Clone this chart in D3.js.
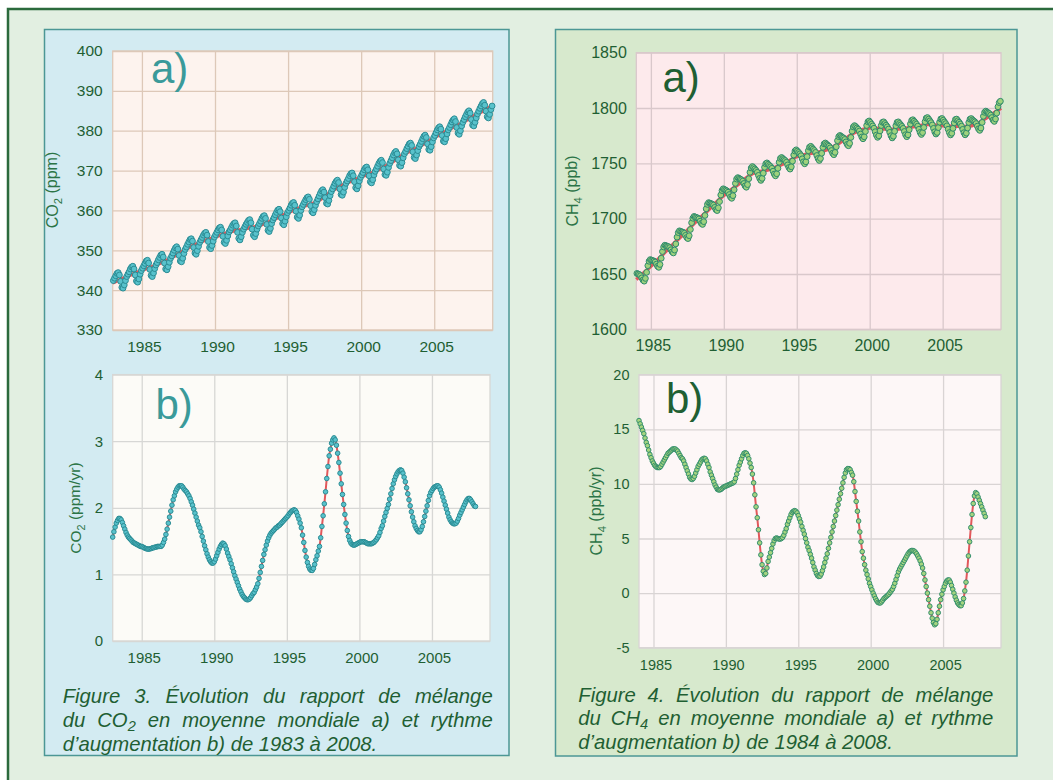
<!DOCTYPE html>
<html>
<head>
<meta charset="utf-8">
<script src="https://cdn.jsdelivr.net/npm/d3@7"></script>
<style>
  body { margin: 0; background: #fff; }
  svg { display: block; font-family: "Liberation Sans", Arial, sans-serif; }
</style>
</head>
<body>
<svg id="chart" width="1053" height="780"></svg>
<script>
// ---- data ----
const xTickYears = [1985, 1990, 1995, 2000, 2005];
const co2Ticks = [330, 340, 350, 360, 370, 380, 390, 400];
const co2RateTicks = [0, 1, 2, 3, 4];
const ch4Ticks = [1600, 1650, 1700, 1750, 1800, 1850];
const ch4RateTicks = [-5, 0, 5, 10, 15, 20];

// CO2 monthly global mean (ppm), Jan 1983 .. Dec 2008
const co2Start = 1983;
const co2Monthly = [
  342.4, 343.0, 343.6, 344.2, 344.4, 343.8, 342.2, 340.7, 340.5, 341.3, 342.4, 343.4,
  344.0, 344.6, 345.3, 345.8, 346.0, 345.3, 343.8, 342.3, 342.0, 342.8, 344.0, 344.9,
  345.5, 346.1, 346.7, 347.3, 347.5, 346.8, 345.2, 343.7, 343.4, 344.3, 345.4, 346.3,
  346.9, 347.6, 348.2, 348.8, 349.0, 348.3, 346.8, 345.3, 345.1, 345.9, 347.0, 348.0,
  348.6, 349.3, 350.0, 350.6, 350.9, 350.3, 348.7, 347.3, 347.1, 348.0, 349.2, 350.2,
  350.8, 351.5, 352.1, 352.7, 352.9, 352.3, 350.7, 349.3, 349.0, 349.9, 351.0, 352.0,
  352.6, 353.2, 353.8, 354.3, 354.5, 353.8, 352.2, 350.7, 350.4, 351.2, 352.3, 353.3,
  353.9, 354.5, 355.1, 355.6, 355.8, 355.1, 353.5, 352.0, 351.7, 352.5, 353.6, 354.6,
  355.1, 355.7, 356.3, 356.7, 356.9, 356.1, 354.5, 353.0, 352.6, 353.4, 354.5, 355.3,
  355.9, 356.5, 357.0, 357.5, 357.7, 356.9, 355.3, 353.8, 353.4, 354.2, 355.3, 356.1,
  356.7, 357.3, 358.0, 358.5, 358.7, 358.0, 356.5, 355.0, 354.7, 355.5, 356.7, 357.6,
  358.2, 358.9, 359.5, 360.1, 360.3, 359.7, 358.1, 356.7, 356.4, 357.3, 358.4, 359.4,
  360.0, 360.6, 361.3, 361.8, 362.0, 361.3, 359.8, 358.3, 358.0, 358.8, 360.0, 360.9,
  361.5, 362.1, 362.7, 363.2, 363.4, 362.8, 361.2, 359.7, 359.4, 360.2, 361.3, 362.2,
  362.9, 363.6, 364.3, 364.9, 365.2, 364.6, 363.2, 361.8, 361.6, 362.5, 363.7, 364.7,
  365.4, 366.1, 366.8, 367.3, 367.6, 367.0, 365.4, 364.0, 363.8, 364.6, 365.8, 366.8,
  367.4, 368.0, 368.7, 369.2, 369.4, 368.7, 367.2, 365.7, 365.4, 366.2, 367.4, 368.3,
  368.9, 369.5, 370.2, 370.7, 370.9, 370.2, 368.7, 367.2, 366.9, 367.7, 368.9, 369.8,
  370.4, 371.1, 371.8, 372.3, 372.6, 372.0, 370.4, 369.0, 368.8, 369.6, 370.8, 371.8,
  372.5, 373.2, 373.9, 374.5, 374.8, 374.2, 372.7, 371.3, 371.1, 372.0, 373.2, 374.2,
  374.8, 375.5, 376.1, 376.7, 376.9, 376.3, 374.7, 373.3, 373.0, 373.9, 375.0, 376.0,
  376.6, 377.3, 378.0, 378.6, 378.9, 378.3, 376.7, 375.3, 375.1, 376.0, 377.2, 378.2,
  378.8, 379.5, 380.2, 380.7, 381.0, 380.4, 378.8, 377.4, 377.2, 378.0, 379.2, 380.2,
  380.8, 381.5, 382.2, 382.7, 383.0, 382.3, 380.8, 379.4, 379.1, 380.0, 381.2, 382.1,
  382.8, 383.5, 384.1, 384.7, 385.0, 384.4, 382.8, 381.4, 381.2, 382.1, 383.2, 384.2,
  384.9, 385.6, 386.2, 386.8, 387.1, 386.4, 384.9, 383.5, 383.2, 384.1, 385.3, 386.2
];
// deseasonalised CO2 trend at 1 January, 1983 .. 2009
const co2Trend = [341.8, 343.45, 344.95, 346.35, 348.05, 350.25, 352.05, 353.3, 354.6,
  355.35, 356.15, 357.65, 359.45, 360.95, 362.25, 364.85, 366.85, 368.35, 369.85,
  371.85, 374.25, 376.05, 378.25, 380.25, 382.2, 384.3, 386.3];
// CO2 growth rate (ppm/yr), monthly from Jan 1983 to Jan 2008
const co2Rate = [
  1.56, 1.64, 1.71, 1.77, 1.81, 1.84, 1.84, 1.82, 1.78, 1.73, 1.68, 1.63,
  1.59, 1.56, 1.54, 1.52, 1.50, 1.48, 1.47, 1.46, 1.45, 1.44, 1.43, 1.42,
  1.42, 1.41, 1.40, 1.39, 1.385, 1.38, 1.38, 1.385, 1.39, 1.40, 1.40, 1.41,
  1.41, 1.42, 1.42, 1.42, 1.42, 1.44, 1.48, 1.53, 1.60, 1.68, 1.77, 1.86,
  1.95, 2.04, 2.12, 2.18, 2.24, 2.28, 2.31, 2.33, 2.33, 2.33, 2.31, 2.28,
  2.26, 2.24, 2.21, 2.18, 2.14, 2.09, 2.04, 1.98, 1.92, 1.86, 1.80, 1.74,
  1.70, 1.64, 1.57, 1.50, 1.43, 1.37, 1.31, 1.26, 1.22, 1.19, 1.17, 1.17,
  1.19, 1.23, 1.28, 1.33, 1.38, 1.42, 1.45, 1.47, 1.46, 1.43, 1.38, 1.32,
  1.27, 1.22, 1.16, 1.10, 1.04, 0.98, 0.93, 0.88, 0.83, 0.78, 0.74, 0.70,
  0.67, 0.65, 0.63, 0.62, 0.62, 0.63, 0.65, 0.68, 0.71, 0.73, 0.77, 0.81,
  0.86, 0.94, 1.03, 1.12, 1.21, 1.30, 1.37, 1.44, 1.50, 1.55, 1.59, 1.62,
  1.64, 1.66, 1.68, 1.70, 1.71, 1.73, 1.74, 1.76, 1.78, 1.80, 1.82, 1.84,
  1.86, 1.88, 1.91, 1.93, 1.95, 1.96, 1.97, 1.96, 1.93, 1.88, 1.83, 1.77,
  1.70, 1.59, 1.48, 1.36, 1.26, 1.18, 1.12, 1.08, 1.06, 1.06, 1.09, 1.15,
  1.22, 1.28, 1.35, 1.42, 1.55, 1.72, 1.88, 2.06, 2.24, 2.44, 2.62, 2.78,
  2.88, 2.97, 3.02, 3.05, 3.02, 2.94, 2.82, 2.68, 2.52, 2.36, 2.20, 2.05,
  1.90, 1.77, 1.66, 1.57, 1.51, 1.47, 1.45, 1.44, 1.44, 1.45, 1.46, 1.47,
  1.48, 1.49, 1.49, 1.49, 1.49, 1.48, 1.47, 1.46, 1.46, 1.46, 1.46, 1.47,
  1.48, 1.50, 1.52, 1.55, 1.58, 1.63, 1.69, 1.73, 1.80, 1.87, 1.93, 1.99,
  2.05, 2.13, 2.21, 2.29, 2.36, 2.42, 2.47, 2.51, 2.54, 2.56, 2.57, 2.56,
  2.52, 2.46, 2.39, 2.30, 2.21, 2.12, 2.03, 1.94, 1.86, 1.79, 1.73, 1.69,
  1.66, 1.64, 1.64, 1.67, 1.72, 1.79, 1.87, 1.95, 2.03, 2.11, 2.18, 2.23,
  2.26, 2.29, 2.31, 2.32, 2.33, 2.33, 2.31, 2.27, 2.22, 2.16, 2.10, 2.04,
  1.98, 1.92, 1.86, 1.82, 1.79, 1.77, 1.76, 1.76, 1.77, 1.80, 1.84, 1.89,
  1.93, 1.97, 2.01, 2.05, 2.09, 2.12, 2.14, 2.14, 2.12, 2.09, 2.06, 2.03,
  2.02
];

// CH4 monthly global mean (ppb), Jan 1984 .. Dec 2008
const ch4Start = 1984;
const ch4Monthly = [
  1650.5, 1650.0, 1649.5, 1648.5, 1646.5, 1644.5, 1643.5, 1646.0, 1651.5, 1657.5, 1661.5, 1663.0,
  1662.5, 1662.1, 1661.7, 1660.8, 1658.9, 1657.0, 1656.0, 1658.6, 1664.2, 1670.3, 1674.4, 1676.0,
  1675.5, 1675.1, 1674.7, 1673.8, 1671.9, 1670.0, 1669.0, 1671.6, 1677.2, 1683.3, 1687.4, 1689.0,
  1688.5, 1688.1, 1687.7, 1686.8, 1684.9, 1683.0, 1682.0, 1684.6, 1690.2, 1696.3, 1700.4, 1702.0,
  1701.5, 1701.1, 1700.6, 1699.7, 1697.7, 1695.7, 1694.8, 1697.3, 1702.9, 1708.9, 1712.9, 1714.5,
  1714.0, 1713.6, 1713.1, 1712.2, 1710.2, 1708.2, 1707.3, 1709.8, 1715.4, 1721.4, 1725.4, 1727.0,
  1726.4, 1725.8, 1725.1, 1723.9, 1721.8, 1719.6, 1718.4, 1720.8, 1726.1, 1731.9, 1735.8, 1737.1,
  1736.4, 1735.8, 1735.1, 1733.9, 1731.8, 1729.6, 1728.4, 1730.8, 1736.1, 1741.9, 1745.8, 1747.1,
  1746.1, 1744.9, 1743.6, 1741.9, 1739.1, 1736.4, 1734.6, 1736.4, 1741.1, 1746.4, 1749.6, 1750.4,
  1749.2, 1748.1, 1747.0, 1745.5, 1742.9, 1740.3, 1738.7, 1740.6, 1745.5, 1751.0, 1754.4, 1755.3,
  1754.3, 1753.4, 1752.5, 1751.0, 1748.6, 1746.2, 1744.8, 1746.9, 1752.0, 1757.5, 1761.1, 1762.2,
  1761.1, 1759.9, 1758.6, 1756.9, 1754.1, 1751.4, 1749.6, 1751.4, 1756.1, 1761.4, 1764.6, 1765.4,
  1764.1, 1762.9, 1761.6, 1759.9, 1757.1, 1754.4, 1752.6, 1754.4, 1759.1, 1764.4, 1767.6, 1768.4,
  1767.3, 1766.4, 1765.5, 1764.0, 1761.6, 1759.2, 1757.8, 1759.9, 1765.0, 1770.5, 1774.1, 1775.2,
  1774.4, 1773.6, 1772.9, 1771.6, 1769.4, 1767.1, 1765.9, 1768.1, 1773.4, 1779.1, 1782.9, 1784.1,
  1783.2, 1782.0, 1780.8, 1779.2, 1776.5, 1773.8, 1772.2, 1774.0, 1778.8, 1784.2, 1787.5, 1788.3,
  1787.0, 1785.4, 1783.8, 1781.7, 1778.6, 1775.5, 1773.5, 1774.9, 1779.3, 1784.2, 1787.1, 1787.5,
  1786.0, 1784.5, 1783.0, 1781.0, 1778.0, 1775.0, 1773.0, 1774.5, 1779.0, 1784.0, 1787.0, 1787.5,
  1786.1, 1784.8, 1783.4, 1781.6, 1778.8, 1775.9, 1774.1, 1775.8, 1780.4, 1785.6, 1788.8, 1789.4,
  1788.1, 1786.8, 1785.4, 1783.6, 1780.8, 1777.9, 1776.1, 1777.8, 1782.4, 1787.6, 1790.8, 1791.4,
  1790.0, 1788.4, 1786.8, 1784.7, 1781.6, 1778.5, 1776.5, 1777.9, 1782.3, 1787.2, 1790.1, 1790.5,
  1789.0, 1787.4, 1785.9, 1783.9, 1780.8, 1777.8, 1775.7, 1777.2, 1781.6, 1786.6, 1789.6, 1790.0,
  1788.5, 1787.1, 1785.6, 1783.6, 1780.7, 1777.7, 1775.8, 1777.3, 1781.9, 1786.9, 1789.9, 1790.5,
  1789.3, 1788.4, 1787.5, 1786.0, 1783.6, 1781.2, 1779.8, 1781.9, 1787.0, 1792.5, 1796.1, 1797.2,
  1796.4, 1795.6, 1794.9, 1793.6, 1791.4, 1789.1, 1787.9, 1790.1, 1795.4, 1801.1, 1804.9, 1806.1
];
// deseasonalised CH4 trend at 1 January, 1984 .. 2009
const ch4Trend = [1645, 1657, 1670, 1683, 1696, 1708.5, 1721, 1731, 1741, 1744, 1749,
  1756, 1759, 1762, 1769, 1778, 1782, 1781, 1781, 1783, 1785, 1784, 1783.5, 1784, 1791, 1800];
// CH4 growth rate (ppb/yr), monthly from Jan 1984 to Dec 2007
const ch4Rate = [
  15.8, 15.5, 15.2, 14.9, 14.6, 14.2, 13.8, 13.5, 13.1, 12.7, 12.4, 12.1,
  11.9, 11.7, 11.6, 11.5, 11.5, 11.5, 11.6, 11.8, 12.0, 12.2, 12.4, 12.6,
  12.8, 12.9, 13.0, 13.1, 13.2, 13.2, 13.2, 13.1, 13.0, 12.8, 12.6, 12.4,
  12.3, 12.1, 11.8, 11.5, 11.2, 10.9, 10.6, 10.45, 10.4, 10.5, 10.7, 11.0,
  11.3, 11.6, 11.8, 12.0, 12.2, 12.3, 12.35, 12.3, 12.1, 11.8, 11.5, 11.1,
  10.8, 10.5, 10.2, 9.9, 9.7, 9.5, 9.45, 9.45, 9.5, 9.6, 9.7, 9.75,
  9.8, 9.85, 9.9, 9.95, 10.0, 10.05, 10.1, 10.2, 10.5, 10.9, 11.3, 11.7,
  12.0, 12.3, 12.6, 12.8, 12.85, 12.8, 12.6, 12.3, 11.9, 11.5, 10.9, 10.1,
  9.0, 7.9, 6.9, 5.8, 4.6, 3.5, 2.6, 2.0, 1.7, 1.8, 2.3, 2.9,
  3.3, 3.7, 4.1, 4.5, 4.8, 5.0, 5.05, 5.0, 4.95, 4.95, 5.0, 5.1,
  5.3, 5.6, 5.9, 6.3, 6.6, 6.9, 7.2, 7.4, 7.5, 7.55, 7.5, 7.35,
  7.1, 6.8, 6.5, 6.1, 5.75, 5.4, 5.0, 4.6, 4.2, 3.9, 3.55, 3.2,
  2.8, 2.4, 2.1, 1.8, 1.6, 1.52, 1.55, 1.75, 2.05, 2.4, 2.8, 3.2,
  3.6, 4.1, 4.6, 5.1, 5.6, 6.1, 6.6, 7.1, 7.6, 8.1, 8.6, 9.1,
  9.6, 10.1, 10.6, 11.0, 11.3, 11.4, 11.4, 11.3, 11.05, 10.8, 10.2, 9.3,
  8.4, 7.5, 6.6, 5.6, 4.7, 3.8, 3.2, 2.6, 2.1, 1.7, 1.3, 0.9,
  0.6, 0.3, 0.0, -0.25, -0.5, -0.7, -0.85, -0.9, -0.9, -0.8, -0.65, -0.5,
  -0.4, -0.3, -0.2, -0.1, 0.05, 0.2, 0.35, 0.6, 0.9, 1.25, 1.6, 1.95,
  2.2, 2.4, 2.6, 2.8, 3.0, 3.2, 3.4, 3.6, 3.75, 3.85, 3.9, 3.9,
  3.85, 3.75, 3.6, 3.4, 3.2, 2.95, 2.65, 2.3, 1.8, 1.2, 0.6, 0.0,
  -0.6, -1.2, -1.8, -2.3, -2.7, -2.9, -2.8, -2.4, -1.8, -1.2, -0.6, -0.1,
  0.3, 0.6, 0.9, 1.1, 1.2, 1.2, 1.0, 0.7, 0.35, 0.0, -0.35, -0.65,
  -0.9, -1.05, -1.15, -1.15, -0.9, -0.5, 0.2, 1.0, 2.1, 3.4, 4.7, 6.0,
  7.2, 8.2, 8.9, 9.2, 9.1, 8.8, 8.5, 8.2, 7.9, 7.6, 7.3, 7.0
];

// caption lines, a word is a string or a list of [text, isSubscript]
const captionCO2 = [
  ['Figure', '3.', 'Évolution', 'du', 'rapport', 'de', 'mélange'],
  ['du', [['CO', false], ['2', true]], 'en', 'moyenne', 'mondiale', 'a)', 'et', 'rythme'],
  ['d’augmentation', 'b)', 'de', '1983', 'à', '2008.']
];
const captionCH4 = [
  ['Figure', '4.', 'Évolution', 'du', 'rapport', 'de', 'mélange'],
  ['du', [['CH', false], ['4', true]], 'en', 'moyenne', 'mondiale', 'a)', 'et', 'rythme'],
  ['d’augmentation', 'b)', 'de', '1984', 'à', '2008.']
];

// ---- drawing ----
const svg = d3.select('#chart');
const darkGreen = '#1f5f33';
const red = '#e2585b';

svg.append('rect').attr('x', 8).attr('y', 9).attr('width', 1060).attr('height', 790)
  .attr('fill', '#e2efe1').attr('stroke', '#2b6a3c').attr('stroke-width', 2.5);

svg.append('rect').attr('x', 44.5).attr('y', 29.5).attr('width', 464.5).attr('height', 726)
  .attr('fill', '#d3ebf2').attr('stroke', '#4c9795').attr('stroke-width', 1.5);
svg.append('rect').attr('x', 555.5).attr('y', 29.5).attr('width', 461.5).attr('height', 726.5)
  .attr('fill', '#d7e9cd').attr('stroke', '#4c9795').attr('stroke-width', 1.5);

function addLabel(sel, parts, sub) {
  parts.forEach(p => {
    if (p[1]) {
      sel.append('tspan').attr('dy', '0.3em').attr('font-size', sub).text(p[0]);
    } else {
      sel.append('tspan').attr('dy', sel.selectAll('tspan').size() > 0 ? '-0.3em' : 0).text(p[0]);
    }
  });
}

function plot(o) {
  const g = svg.append('g');
  const x = d3.scaleLinear().domain(o.xDomain).range([o.left, o.right]);
  const y = d3.scaleLinear().domain(o.yDomain).range([o.bottom, o.top]);
  const w = o.right - o.left, h = o.bottom - o.top;

  g.append('rect').attr('x', o.left).attr('y', o.top).attr('width', w).attr('height', h)
    .attr('fill', o.bg);

  const gx = g.append('g').attr('transform', `translate(0,${o.bottom})`)
    .call(d3.axisBottom(x).tickValues(xTickYears).tickSize(-h).tickPadding(o.xPad)
      .tickFormat(d => String(d)));
  const gy = g.append('g').attr('transform', `translate(${o.left},0)`)
    .call(d3.axisLeft(y).tickValues(o.yTicks).tickSize(-w).tickPadding(o.yPad)
      .tickFormat(d => String(d)));
  [gx, gy].forEach(a => {
    a.attr('font-family', null).attr('font-size', null);
    a.select('.domain').remove();
    a.selectAll('line').attr('stroke', o.grid).attr('stroke-width', 1.3);
    a.selectAll('text').attr('fill', darkGreen).attr('font-size', o.fs);
  });
  gx.selectAll('text').attr('dx', 2);
  g.append('rect').attr('x', o.left).attr('y', o.top).attr('width', w).attr('height', h)
    .attr('fill', 'none').attr('stroke', o.grid).attr('stroke-width', 1.3);

  g.append('path').datum(o.line)
    .attr('fill', 'none').attr('stroke', red).attr('stroke-width', o.lineW)
    .attr('d', d3.line().x(d => x(d[0])).y(d => y(d[1])).curve(d3.curveCatmullRom));

  g.selectAll('circle.pt').data(o.points).enter().append('circle')
    .attr('class', 'pt')
    .attr('cx', d => x(d[0])).attr('cy', d => y(d[1])).attr('r', o.r)
    .attr('fill', o.fill).attr('stroke', o.stroke).attr('stroke-width', 1);

  g.append('text').attr('x', o.letterX).attr('y', o.letterY)
    .attr('font-size', 42).attr('fill', o.letterColor).text(o.letter);

  const t = g.append('text')
    .attr('transform', `translate(${o.titleX},${o.titleY}) rotate(-90)`)
    .attr('text-anchor', 'middle').attr('font-size', o.titleFs).attr('fill', '#2b7446');
  addLabel(t, o.title, o.titleFs * 0.7);
}

// CO2 a)
plot({
  left: 112.7, right: 492.7, top: 51, bottom: 330,
  xDomain: [1983, 2009], yDomain: [330, 400], yTicks: co2Ticks,
  bg: '#fdf3ee', grid: '#ddc8b8', fs: 15.5, xPad: 11, yPad: 10,
  line: co2Trend.map((v, i) => [co2Start + i, v]), lineW: 3.5,
  points: co2Monthly.map((v, i) => [co2Start + (i + 0.5) / 12, v]),
  r: 2.9, fill: '#58c2cc', stroke: '#2b8c94',
  letter: 'a)', letterX: 151, letterY: 83, letterColor: '#3a9a9a',
  title: [['CO', false], ['2', true], [' (ppm)', false]], titleX: 63, titleY: 190, titleFs: 16
});
// CO2 b)
plot({
  left: 112.7, right: 490, top: 374.6, bottom: 641,
  xDomain: [1983, 2009], yDomain: [0, 4], yTicks: co2RateTicks,
  bg: '#fcfbf7', grid: '#d7d7d5', fs: 15, xPad: 11, yPad: 9.5,
  line: co2Rate.map((v, i) => [co2Start + i / 12, v]), lineW: 2,
  points: co2Rate.map((v, i) => [co2Start + i / 12, v]),
  r: 2.3, fill: '#58c2cc', stroke: '#2b8c94',
  letter: 'b)', letterX: 155.5, letterY: 419, letterColor: '#3a9a9a',
  title: [['CO', false], ['2', true], [' (ppm/yr)', false]], titleX: 86, titleY: 508, titleFs: 15.5
});
// CH4 a)
plot({
  left: 636.3, right: 1001, top: 52.7, bottom: 329.3,
  xDomain: [1984, 2009], yDomain: [1600, 1850], yTicks: ch4Ticks,
  bg: '#fdeaec', grid: '#d9c8cb', fs: 16, xPad: 10.5, yPad: 9.5,
  line: ch4Trend.map((v, i) => [ch4Start + i, v]), lineW: 3.5,
  points: ch4Monthly.map((v, i) => [ch4Start + (i + 0.5) / 12, v]),
  r: 2.9, fill: '#9fd27c', stroke: '#2e8a6c',
  letter: 'a)', letterX: 662.5, letterY: 92, letterColor: darkGreen,
  title: [['CH', false], ['4', true], [' (ppb)', false]], titleX: 583, titleY: 191, titleFs: 16
});
// CH4 b)
plot({
  left: 639, right: 1001, top: 374.7, bottom: 647.7,
  xDomain: [1984, 2009], yDomain: [-5, 20], yTicks: ch4RateTicks,
  bg: '#fdf7f7', grid: '#d9d4d4', fs: 14.5, xPad: 12.5, yPad: 9.5,
  line: ch4Rate.map((v, i) => [ch4Start + i / 12, v]), lineW: 2,
  points: ch4Rate.map((v, i) => [ch4Start + i / 12, v]),
  r: 2.3, fill: '#a5d47f', stroke: '#35906e',
  letter: 'b)', letterX: 666, letterY: 413, letterColor: darkGreen,
  title: [['CH', false], ['4', true], [' (ppb/yr)', false]], titleX: 607, titleY: 511, titleFs: 16
});

// justified italic captions
function caption(lines, x0, x1, y0, lh) {
  const fs = 20.3;
  const g = svg.append('g').attr('font-style', 'italic').attr('font-size', fs).attr('fill', darkGreen);
  const fillWord = (t, word) => {
    if (typeof word === 'string') { t.text(word); return; }
    word.forEach(p => {
      const s = t.append('tspan').text(p[0]);
      if (p[1]) s.attr('font-size', fs * 0.72).attr('dy', 4);
    });
  };
  const spaceW = 5.6;
  lines.forEach((words, li) => {
    const y = y0 + li * lh;
    const texts = words.map(wd => {
      const t = g.append('text').attr('y', y);
      fillWord(t, wd);
      return t;
    });
    const widths = texts.map(t => t.node().getComputedTextLength());
    const total = d3.sum(widths);
    const last = li === lines.length - 1;
    const gap = last ? spaceW : (x1 - x0 - total) / (words.length - 1);
    let cx = x0;
    texts.forEach((t, i) => { t.attr('x', cx); cx += widths[i] + gap; });
  });
}
caption(captionCO2, 62.7, 492.7, 703.3, 23.7);
caption(captionCH4, 578.3, 993.3, 701.7, 23.7);
</script>
</body>
</html>
